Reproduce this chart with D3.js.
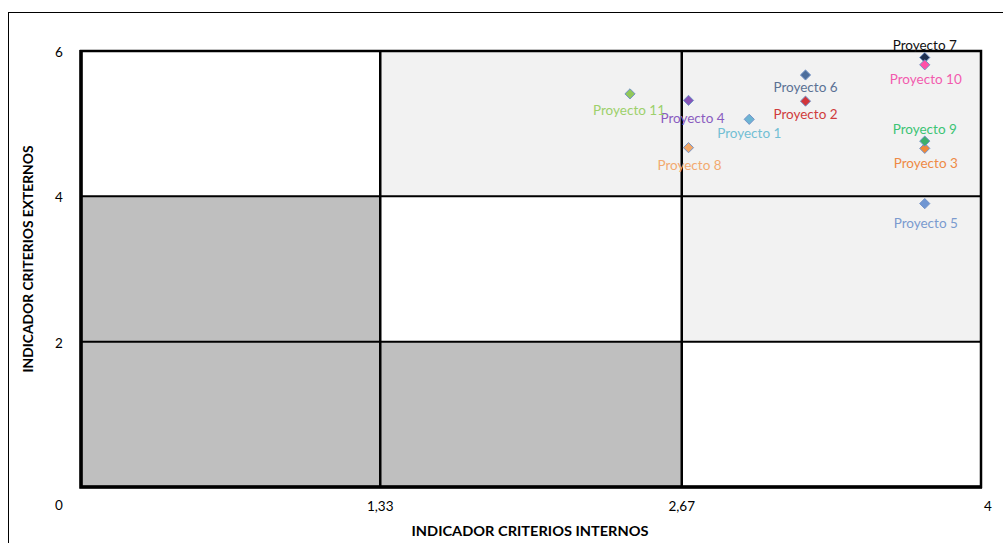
<!DOCTYPE html>
<html><head><meta charset="utf-8">
<script src="https://cdn.jsdelivr.net/npm/d3@7"></script>
<style>body{margin:0;background:#fff}svg{display:block}text{font-family:Lato,"Open Sans",sans-serif}</style>
</head><body><svg id="c" width="1003" height="543"></svg>
<script>
// ---- data ----
const projects = ["Proyecto 1","Proyecto 2","Proyecto 3","Proyecto 4","Proyecto 5","Proyecto 6","Proyecto 7","Proyecto 8","Proyecto 9","Proyecto 10","Proyecto 11"];
const internos = [2.97, 3.22, 3.75, 2.70, 3.75, 3.22, 3.75, 2.70, 3.75, 3.75, 2.44];
const externos = [5.06, 5.31, 4.66, 5.32, 3.90, 5.67, 5.91, 4.67, 4.76, 5.81, 5.41];
const xBreaks = [0, 1.33, 2.67, 4];
const yBreaks = [0, 2, 4, 6];
const xTickLabels = ["0","1,33","2,67","4"];
const yTickLabels = ["0","2","4","6"];
// zone shading per [row from bottom][col]
const zones = [["dark","dark","white"],["dark","white","light"],["white","light","light"]];
// ---- styles ----
const markerFill = ["#6DB4D3","#D2343A","#F08838","#8655B8","#7096D2","#4D6E9C","#1F3050","#F2A869","#3DB06A","#FF4FA8","#92C85A"];
const labelFill  = ["#72BFD4","#D03C3C","#EE8A45","#8A5CC0","#7B9BCF","#5B7194","#111111","#F2AA70","#3CC474","#F25BAE","#9DD06B"];
const labelOff = [[0,14],[0,13],[1,15],[4,18],[1,19],[0,12],[0,-13],[1,17],[0,-12],[1,14],[-1,16]];
const zoneColor = {dark:"#BFBFBF", light:"#F2F2F2", white:"#FFFFFF"};

const svg = d3.select("#c");
const x = d3.scaleLinear().domain([0,4]).range([81,981]);
const y = d3.scaleLinear().domain([0,6]).range([487,51]);

// outer frame
svg.append("rect").attr("x",8.5).attr("y",12.5).attr("width",1010).attr("height",560)
  .attr("fill","none").attr("stroke","#000").attr("stroke-width",1);

// zones
const cells = [];
zones.forEach((row,r)=>row.forEach((z,c)=>cells.push({r,c,z})));
svg.append("g").selectAll("rect").data(cells).join("rect")
  .attr("x",d=>x(xBreaks[d.c])).attr("y",d=>y(yBreaks[d.r+1]))
  .attr("width",d=>x(xBreaks[d.c+1])-x(xBreaks[d.c]))
  .attr("height",d=>y(yBreaks[d.r])-y(yBreaks[d.r+1]))
  .attr("fill",d=>zoneColor[d.z]);

// grid lines
const g = svg.append("g").attr("stroke","#000");
g.selectAll(".v").data(xBreaks.slice(1,3)).join("line")
  .attr("x1",d=>x(d)).attr("x2",d=>x(d)).attr("y1",y(6)).attr("y2",y(0)).attr("stroke-width",2.5);
g.selectAll(".h").data(yBreaks.slice(1,3)).join("line")
  .attr("y1",d=>y(d)).attr("y2",d=>y(d)).attr("x1",x(0)).attr("x2",x(4)).attr("stroke-width",2);
// border
svg.append("rect").attr("x",x(0)).attr("y",y(6)).attr("width",x(4)-x(0)).attr("height",y(0)-y(6))
  .attr("fill","none").attr("stroke","#000").attr("stroke-width",2.5);
svg.append("path").attr("d",`M${x(0)},${y(6)-1}V${y(0)}H${x(4)+1}`).attr("fill","none").attr("stroke","#000").attr("stroke-width",3.5);

// tick labels
const tl = svg.append("g").attr("font-size",13.5).attr("fill","#000").attr("text-anchor","middle");
tl.selectAll(".xt").data(xBreaks.slice(1)).join("text")
  .attr("x",(d,i)=>x(d)+(i===2?7:0)).attr("y",506).attr("dominant-baseline","central")
  .text((d,i)=>xTickLabels[i+1]);
tl.selectAll(".yt").data(yBreaks).join("text")
  .attr("x",59).attr("y",(d,i)=>i===0?505:y(d)+1).attr("dominant-baseline","central")
  .text((d,i)=>yTickLabels[i]);

// axis titles
svg.append("text").attr("x",530).attr("y",530).attr("text-anchor","middle").attr("dominant-baseline","central")
  .attr("font-size",14).attr("font-weight","bold").attr("textLength",237).attr("lengthAdjust","spacingAndGlyphs").text("INDICADOR CRITERIOS INTERNOS");
svg.append("text").attr("transform","translate(27,259) rotate(-90)").attr("text-anchor","middle").attr("dominant-baseline","central")
  .attr("font-size",14).attr("font-weight","bold").attr("textLength",227).attr("lengthAdjust","spacingAndGlyphs").text("INDICADOR CRITERIOS EXTERNOS");

// points
const idx = d3.range(projects.length);
const diamond = d3.symbol().type(d3.symbolDiamond2).size(66);
svg.append("g").selectAll("path").data(idx).join("path")
  .attr("transform",i=>`translate(${x(internos[i])},${y(externos[i])})`)
  .attr("d",diamond).attr("fill",i=>markerFill[i]).attr("stroke","#7393C8").attr("stroke-width",1);

// labels
svg.append("g").selectAll("text").data(idx).join("text")
  .attr("x",i=>x(internos[i])+labelOff[i][0]).attr("y",i=>y(externos[i])+labelOff[i][1])
  .attr("text-anchor","middle").attr("dominant-baseline","central").attr("font-size",13.5)
  .attr("fill",i=>labelFill[i]).text(i=>projects[i]);
</script></body></html>
